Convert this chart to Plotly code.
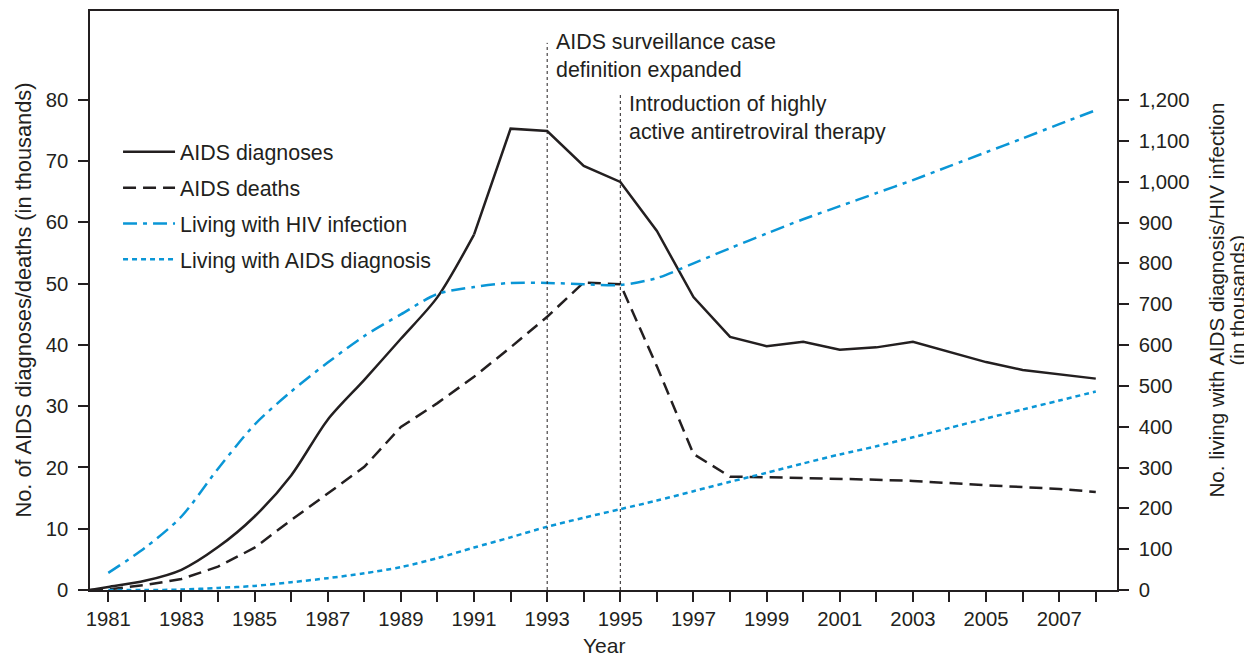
import plotly.graph_objects as go

# ---------------- data ----------------
years = list(range(1981, 2009))
diag_years = [1980.5] + years
aids_diagnoses = [0, 0.5, 1.5, 3.3, 7.0, 12.0, 18.7, 27.8, 34.3, 41.0, 47.8, 58.0, 75.3,
                  74.9, 69.2, 66.6, 58.6, 47.8, 41.3, 39.8, 40.5, 39.2, 39.6, 40.5,
                  38.8, 37.2, 35.9, 35.2, 34.5]
aids_deaths = [0, 0.1, 0.8, 1.8, 3.8, 6.9, 11.4, 15.8, 20.1, 26.6, 30.5, 34.8, 39.6,
               44.6, 50.2, 49.9, 36.5, 22.2, 18.5, 18.4, 18.3, 18.1, 18.0, 17.8,
               17.4, 17.1, 16.8, 16.5, 16.0]
living_hiv = [42, 103, 180, 297, 405, 486, 557, 622, 675, 725, 742, 752, 752, 749,
              747, 764, 800, 837, 873, 908, 940, 972, 1004, 1038, 1072, 1106, 1141, 1175]
living_aids = [0, 0, 1, 5, 10, 19, 29, 41, 56, 78, 104, 129, 155, 177, 198, 219, 242,
               265, 287, 310, 332, 352, 374, 397, 420, 442, 464, 486]

event_years = [1993, 1995]
event_tops = [89.3, 81.1]
event_labels = ["AIDS surveillance case<br>definition expanded",
                "Introduction of highly<br>active antiretroviral therapy"]
event_label_y = [91.8, 81.6]

left_ticks = list(range(0, 81, 10))
right_ticks = list(range(0, 1201, 100))
x_ticktext = [str(y) if y % 2 == 1 else "" for y in years]

x_title = "Year"
y_title = "No. of AIDS diagnoses/deaths (in thousands)"
y2_title_lines = ["No. living with AIDS diagnosis/HIV infection", "(in thousands)"]

# the smooth early rise of diagnoses (up to 1991) vs. the straight segments after it
split_year = 1991
k = diag_years.index(split_year)

# ---------------- style ----------------
INK = "#231f20"
BLUE = "#0a96d6"
FONT = "Liberation Sans, Arial, Helvetica, sans-serif"

fig = go.Figure()
fig.add_trace(go.Scatter(x=diag_years[:k + 1], y=aids_diagnoses[:k + 1], mode="lines",
                         name="AIDS diagnoses", legendgroup="a",
                         line=dict(color=INK, width=2.5, shape="spline", smoothing=0.8)))
fig.add_trace(go.Scatter(x=diag_years[k:], y=aids_diagnoses[k:], mode="lines",
                         name="AIDS diagnoses", legendgroup="a", showlegend=False,
                         line=dict(color=INK, width=2.5)))
fig.add_trace(go.Scatter(x=diag_years, y=aids_deaths, mode="lines", name="AIDS deaths",
                         legendgroup="b", line=dict(color=INK, width=2.5, dash="13px,7px")))
fig.add_trace(go.Scatter(x=years, y=living_hiv, mode="lines", name="Living with HIV infection",
                         legendgroup="c", yaxis="y2",
                         line=dict(color=BLUE, width=2.5, dash="14px,6px,4px,6px",
                                   shape="spline", smoothing=0.8)))
fig.add_trace(go.Scatter(x=years, y=living_aids, mode="lines", name="Living with AIDS diagnosis",
                         legendgroup="d", yaxis="y2",
                         line=dict(color=BLUE, width=2.5, dash="5px,4px",
                                   shape="spline", smoothing=0.8)))

for yr, top in zip(event_years, event_tops):
    fig.add_shape(type="line", xref="x", yref="y", x0=yr, x1=yr, y0=0, y1=top,
                  line=dict(color=INK, width=1, dash="dot"))

for yr, txt, ly in zip(event_years, event_labels, event_label_y):
    fig.add_annotation(x=yr, y=ly, xref="x", yref="y", text=txt, showarrow=False,
                       xanchor="left", yanchor="top", align="left", xshift=7,
                       font=dict(family=FONT, size=21.4, color=INK))

# axis titles
fig.add_annotation(x=0.5, y=0, xref="paper", yref="paper", text=x_title, showarrow=False,
                   xanchor="center", yanchor="middle", yshift=-55,
                   font=dict(family=FONT, size=21, color=INK))
fig.add_annotation(x=0, y=0.5, xref="paper", yref="paper", text=y_title, showarrow=False,
                   textangle=-90, xanchor="center", yanchor="middle", xshift=-67,
                   font=dict(family=FONT, size=21.8, color=INK))
for line_txt, shift in zip(y2_title_lines, [99, 120]):
    fig.add_annotation(x=1, y=0.5, xref="paper", yref="paper", text=line_txt,
                       showarrow=False, textangle=-90, xanchor="center", yanchor="middle",
                       xshift=shift, font=dict(family=FONT, size=20.6, color=INK))

axis_common = dict(showgrid=False, zeroline=False, showline=True, linecolor=INK,
                   linewidth=1.5, ticks="outside", ticklen=10, tickwidth=1.5,
                   tickcolor=INK, automargin=False,
                   tickfont=dict(family=FONT, size=20.3, color=INK))

# the page body has an 8px margin, so the figure is sized to fit the window
fig.update_layout(
    width=1244, height=649,
    margin=dict(l=82, r=135, t=3, b=67),
    paper_bgcolor="white", plot_bgcolor="white",
    font=dict(family=FONT, color=INK),
    showlegend=True,
    legend=dict(x=0.0273, y=0.792, xanchor="left", yanchor="top",
                bgcolor="rgba(0,0,0,0)", font=dict(family=FONT, size=21.4, color=INK),
                tracegroupgap=5, itemwidth=52, traceorder="grouped"),
    xaxis=dict(range=[1980.5, 2008.58], tickvals=years, ticktext=x_ticktext,
               mirror=True, **axis_common),
    yaxis=dict(range=[0, 94.5], tickvals=left_ticks, ticklabelstandoff=6, **axis_common),
    yaxis2=dict(range=[0, 1418], tickvals=right_ticks, tickformat=",d", overlaying="y",
                side="right", ticklabelstandoff=6, **axis_common),
)

fig.write_html("out.html")
